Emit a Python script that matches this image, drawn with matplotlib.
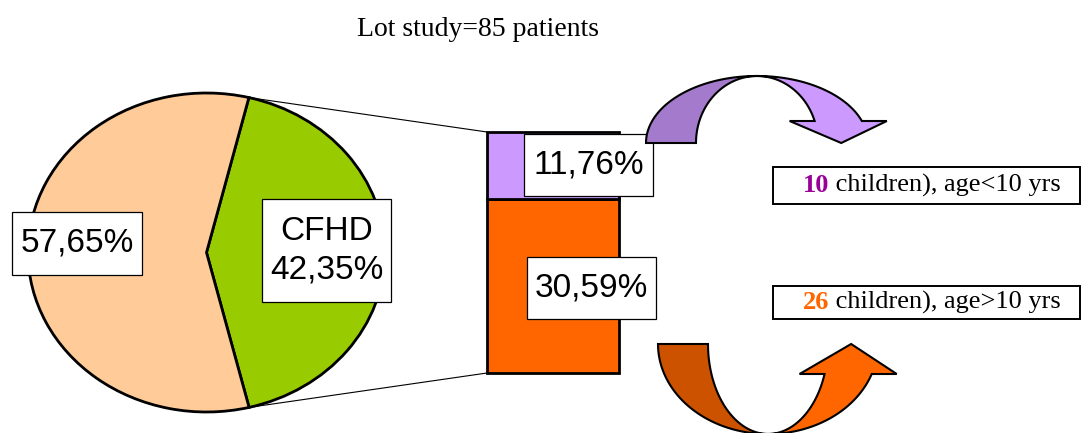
import numpy as np
import matplotlib
matplotlib.use('Agg')
import matplotlib.pyplot as plt
from matplotlib.patches import Polygon, Rectangle, ConnectionPatch

# ---------------------------------------------------------------------------
# Data
# ---------------------------------------------------------------------------
TITLE = "Lot study=85 patients"
pie_labels = ["CFHD", ""]
pie_values = [42.35, 57.65]
pie_colors = ['#99CC00', '#FFCC99']

bar_values = [30.59, 11.76]          # bottom -> top
bar_colors = ['#FF6600', '#CC99FF']

child_counts = [10, 26]
child_texts = [" children), age<10 yrs", " children), age>10 yrs"]
count_colors = ['#990099', '#FF6600']

W, H = 1082, 433
START = -76.2


def pct(v):
    return f"{v:.2f}%".replace('.', ',')


def label_box(ax, x0, y0, w, h, s, **kw):
    """White framed label box (pixel coords, y down)."""
    ax.add_patch(Rectangle((x0, y0), w, h, facecolor='white',
                           edgecolor='black', lw=0.9, zorder=3))
    ax.text(x0 + w / 2, y0 + h / 2, s, family='Liberation Sans', fontsize=24,
            ha='center', va='center', zorder=4, **kw)


def curved_arrow(ax, cx, cy, rx_out, rx_in, ry, head_dy, ext, dark, light, up=True):
    """Two-tone curved block arrow (PowerPoint style), in pixel coords."""
    s = -1 if up else 1
    t = np.radians(np.linspace(180, 90, 60))
    outer = np.c_[cx + rx_out * np.cos(t), cy + s * ry * np.sin(t)]
    inner = np.c_[cx + rx_in * np.cos(t), cy + s * ry * np.sin(t)]
    ax.add_patch(Polygon(np.vstack([outer, inner[::-1]]), closed=True,
                         facecolor=dark, edgecolor='black', lw=1.5, zorder=5))

    th = np.arcsin(head_dy / ry)
    t2 = np.linspace(np.pi / 2, th, 60)
    outer2 = np.c_[cx + rx_out * np.cos(t2), cy + s * ry * np.sin(t2)]
    inner2 = np.c_[cx + rx_in * np.cos(t2), cy + s * ry * np.sin(t2)]
    hy = cy + s * head_dy
    xo, xi = outer2[-1, 0], inner2[-1, 0]
    head = np.array([[xo + ext, hy], [(xo + xi) / 2 + 3, cy], [xi - ext, hy]])
    pts = np.vstack([outer2, head, inner2[::-1]])
    ax.add_patch(Polygon(pts, closed=True, facecolor=light,
                         edgecolor='black', lw=1.5, zorder=6))


fig = plt.figure(figsize=(W / 100, H / 100), dpi=100)

# --- pie (elliptical) ---
pax = fig.add_axes([28 / W, (H - 412) / H, 357 / W, 319 / H])
wedges, _ = pax.pie(pie_values, colors=pie_colors, startangle=START,
                    counterclock=True,
                    wedgeprops=dict(edgecolor='black', linewidth=2))
for w in wedges:
    w.set_clip_on(False)
pax.set_aspect('auto')
pax.set_xlim(-1, 1)
pax.set_ylim(-1, 1)
pax.axis('off')

# --- stacked bar ---
bax = fig.add_axes([487 / W, (H - 373) / H, 132 / W, 241 / H])
bottom = 0
for v, c in zip(bar_values, bar_colors):
    b = bax.bar(0, v, width=1, bottom=bottom, color=c, edgecolor='black',
                linewidth=2)
    for p in b:
        p.set_clip_on(False)
    bottom += v
bax.set_xlim(-0.5, 0.5)
bax.set_ylim(0, sum(bar_values))
bax.axis('off')

# --- connector lines pie -> bar ---
end_ang = np.radians(START + pie_values[0] * 3.6)
start_ang = np.radians(START)
for ang, yb in [(end_ang, sum(bar_values)), (start_ang, 0)]:
    con = ConnectionPatch(xyA=(np.cos(ang), np.sin(ang)), coordsA=pax.transData,
                          xyB=(-0.5, yb), coordsB=bax.transData,
                          color='black', lw=0.8)
    fig.add_artist(con)

# --- overlay in pixel coords ---
ax = fig.add_axes([0, 0, 1, 1])
ax.set_xlim(0, W)
ax.set_ylim(H, 0)
ax.axis('off')
ax.set_zorder(5)

label_box(ax, 12, 212, 130, 63, pct(pie_values[1]))
label_box(ax, 262, 199, 129, 103, f"{pie_labels[0]}\n{pct(pie_values[0])}",
          linespacing=1.3)
label_box(ax, 524, 134, 129, 62, pct(bar_values[1]))
label_box(ax, 527, 257, 129, 62, pct(bar_values[0]))

ax.text(478, 30, TITLE, family='Liberation Serif', fontsize=20,
        ha='center', va='center')

# children boxes
for (y0, h), n, txt, col in zip([(167, 37), (286, 33)], child_counts,
                                child_texts, count_colors):
    ax.add_patch(Rectangle((773, y0), 307, h, facecolor='white',
                           edgecolor='black', lw=1.4, zorder=2))
    t1 = ax.text(803, y0 + h / 2, str(n), family='Liberation Serif',
                 fontsize=19, fontweight='bold', color=col,
                 ha='left', va='center', zorder=3)
    ax.annotate(txt, xy=(1, 0), xycoords=t1, family='Liberation Serif',
                fontsize=19, color='black', ha='left', va='bottom', zorder=3)

# curved arrows
curved_arrow(ax, 757, 143, 111, 61, 67, 22, 25, '#A37ACC', '#CC99FF', up=True)
curved_arrow(ax, 768, 344, 110, 60, 90, 30, 25, '#CC5200', '#FF6600', up=False)

fig.savefig('out.png', dpi=100)
